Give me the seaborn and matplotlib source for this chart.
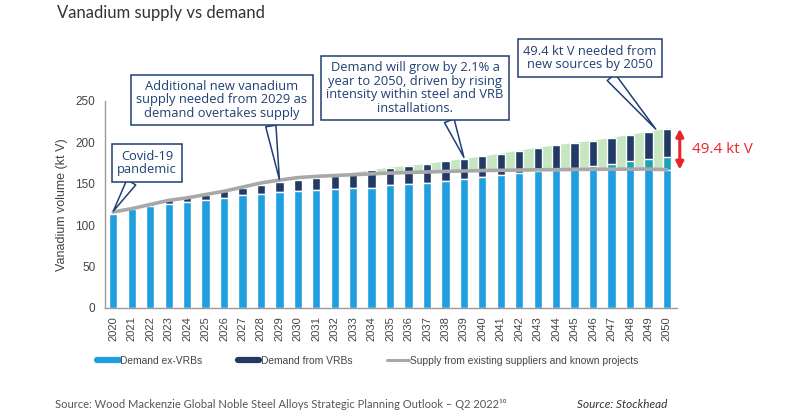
import numpy as np
import matplotlib
matplotlib.use("Agg")
import matplotlib.pyplot as plt
from matplotlib.lines import Line2D
import seaborn as sns

# data (kt V)
years = [str(y) for y in range(2020, 2051)]
demand_ex_vrb = [113, 119, 123, 126, 128, 130.5, 133, 136, 138, 140, 141, 142.5, 143.5, 144.5,
                 145.5, 148, 150, 151.5, 153.5, 155.5, 158, 160.5, 163, 165, 166.5, 169.5,
                 172, 174, 177, 179.5, 182]
demand_total = [113.5, 119.5, 126, 131, 134, 137, 141, 145, 149, 152, 155, 156.5, 159, 163.5,
                166.5, 169.5, 171.5, 174, 177, 180, 183, 186.5, 190, 193.5, 196.5, 199.5,
                202, 205.5, 209, 212.5, 216.5]
supply = [116, 120, 125, 130, 133, 137, 141, 146, 151, 154.5, 157.5, 159, 160, 161, 162, 163,
          163.7, 164.3, 165, 165.5, 166, 166.3, 166.6, 166.9, 167.1, 167.3, 167.5, 167.6,
          167.7, 167.8, 167.1]
gap_label = "49.4 kt V"

light_blue = "#1f9fe0"
navy = "#213a66"
teal = "#1ba3b4"
green = "#c6e6c1"
grey = "#a8a8a8"
box_col = "#1f3f73"
red = "#e8262a"

sns.set_style("white")
plt.rcParams["font.family"] = ["Liberation Sans", "DejaVu Sans"]

df_total = np.array(demand_total)
df_ex = np.array(demand_ex_vrb)
sup = np.array(supply)
idx = np.arange(len(years))

fig = plt.figure(figsize=(8, 4.18), dpi=100)
ax = fig.add_axes([105 / 800, 1 - 308 / 418, (677 - 105) / 800, (308 - 101) / 418])

# green gap between supply and total demand
fx = np.append(idx, idx[-1] + 0.25)
ft = np.append(df_total, df_total[-1])
fs = np.append(sup, sup[-1])
ax.fill_between(fx, fs, ft, where=ft >= fs, interpolate=True, color=green, lw=0, zorder=0.5)

# stacked bars: total (navy), ex-VRB (teal where above supply), ex-VRB below supply (light blue)
sns.barplot(x=years, y=df_total, color=navy, width=0.45, errorbar=None, ax=ax,
            saturation=1, zorder=2)
sns.barplot(x=years, y=df_ex, color=teal, width=0.45, errorbar=None, ax=ax,
            saturation=1, zorder=2)
sns.barplot(x=years, y=np.minimum(df_ex, sup), color=light_blue, width=0.45, errorbar=None,
            ax=ax, saturation=1, zorder=2)

ax.plot(idx, sup, color=grey, lw=2.6, zorder=3)

ax.set_xlim(-0.45, 30.55)
ax.set_ylim(0, 250)
ax.set_yticks([0, 50, 100, 150, 200, 250])
ax.tick_params(axis="both", length=0, labelsize=8, colors="#444444")
ax.tick_params(axis="y", pad=7, labelsize=8.5)
ax.tick_params(axis="x", pad=6, labelrotation=90)
ax.set_ylabel("Vanadium volume (kt V)", fontsize=9, color="#444444", labelpad=5)
ax.set_xlabel("")
for s in ["top", "right"]:
    ax.spines[s].set_visible(False)
for s in ["left", "bottom"]:
    ax.spines[s].set_color("#9a9a9a")
    ax.spines[s].set_linewidth(1)

# red double arrow showing the 2050 gap
ax.annotate("", xy=(30.7, df_total[-1]), xytext=(30.7, sup[-1]),
            arrowprops=dict(arrowstyle="<|-|>", color=red, lw=2.2, mutation_scale=11,
                            shrinkA=0, shrinkB=0), annotation_clip=False)
ax.text(31.35, (df_total[-1] + sup[-1]) / 2, gap_label, color=red, fontsize=11,
        va="center", ha="left", family=["Open Sans", "DejaVu Sans"])

# callouts
callouts = [
    ("Covid-19\npandemic", (0, sup[0] + 1), (147, 418 - 163), (0.3, 0)),
    ("Additional new vanadium\nsupply needed from 2029 as\ndemand overtakes supply",
     (9, sup[9] + 1), (222, 418 - 100), (0.78, 0)),
    ("Demand will grow by 2.1% a\nyear to 2050, driven by rising\nintensity within steel and VRB\ninstallations.",
     (19, df_total[19] + 2), (415, 418 - 88), (0.68, 0)),
    ("49.4 kt V needed from\nnew sources by 2050", (29.4, 216), (590, 418 - 58), (0.62, 0)),
]
for txt, xy, xyt, rp in callouts:
    ax.annotate(txt, xy=xy, xycoords="data", xytext=xyt, textcoords="figure pixels",
                ha="center", va="center", fontsize=9.3, color=box_col,
                family=["Open Sans", "DejaVu Sans"], linespacing=1.05,
                bbox=dict(boxstyle="square,pad=0.42", fc="white", ec=box_col, lw=1.1),
                arrowprops=dict(arrowstyle="wedge,tail_width=0.8,shrink_factor=0.5",
                                fc="white", ec=box_col, lw=1.1, relpos=rp,
                                shrinkA=0, shrinkB=0),
                annotation_clip=False, zorder=5)

# legend
handles = [Line2D([], [], color=light_blue, lw=4.5),
           Line2D([], [], color=navy, lw=4.5),
           Line2D([], [], color=grey, lw=2.2)]
labels = ["Demand ex-VRBs", "Demand from VRBs", "Supply from existing suppliers and known projects"]
fig.legend(handles, labels, loc="center left", bbox_to_anchor=(88 / 800, 1 - 361 / 418),
           ncol=3, frameon=False, fontsize=7.4, handlelength=2.1, handletextpad=0.15,
           columnspacing=3.4, labelcolor="#444444")

fig.text(57 / 800, 1 - 13 / 418, "Vanadium supply vs demand", fontsize=12, color="#333333",
         va="center", ha="left", family=["Lato", "DejaVu Sans"])
fig.text(55 / 800, 13 / 418,
         "Source: Wood Mackenzie Global Noble Steel Alloys Strategic Planning Outlook \u2013 Q2 2022\u00b9\u2070",
         fontsize=8, color="#555555", va="center", ha="left", family=["Lato", "DejaVu Sans"])
fig.text(577 / 800, 13 / 418, "Source: Stockhead", fontsize=8.5, color="#333333",
         style="italic", va="center", ha="left", family=["Lato", "DejaVu Sans"])

fig.savefig("out.png", dpi=100)
